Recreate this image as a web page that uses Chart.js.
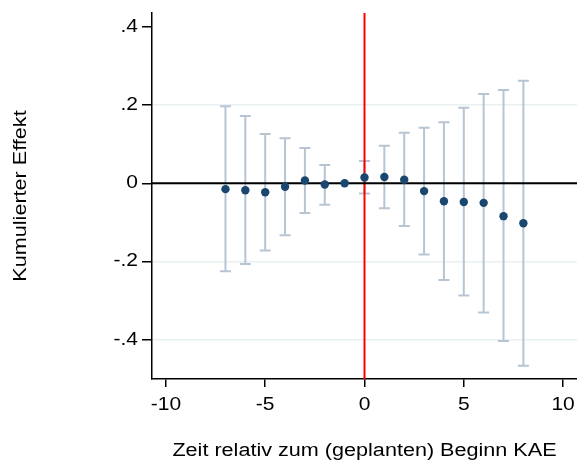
<!DOCTYPE html>
<html>
<head>
<meta charset="utf-8">
<script src="https://cdn.jsdelivr.net/npm/chart.js@4.4.1/dist/chart.umd.min.js"></script>
<style>
html,body{margin:0;padding:0;background:#fff;}
#wrap{width:577px;height:461px;position:relative;}
</style>
</head>
<body>
<div id="wrap"><canvas id="c" width="577" height="461"></canvas></div>
<script>
// Data
const periods  = [-7, -6, -5, -4, -3, -2, -1, 0, 1, 2, 3, 4, 5, 6, 7, 8];
const estimate = [-0.015, -0.018, -0.023, -0.009, 0.007, -0.003, 0.0, 0.015, 0.016, 0.009, -0.020, -0.046, -0.048, -0.050, -0.084, -0.102];
const ciUpper  = [0.197, 0.172, 0.126, 0.115, 0.090, 0.047, null, 0.057, 0.096, 0.129, 0.142, 0.156, 0.193, 0.228, 0.238, 0.262];
const ciLower  = [-0.225, -0.206, -0.172, -0.133, -0.076, -0.055, null, -0.026, -0.064, -0.109, -0.182, -0.247, -0.287, -0.330, -0.403, -0.466];
const xTicks   = [-10, -5, 0, 5, 10];
const yTicks   = [-0.4, -0.2, 0, 0.2, 0.4];
const xTitle   = 'Zeit relativ zum (geplanten) Beginn KAE';
const yTitle   = 'Kumulierter Effekt';

Chart.defaults.font.family = "'Liberation Sans', Arial, sans-serif";
Chart.defaults.font.size = 18;
Chart.defaults.color = '#000';

const fmtY = v => v === 0 ? '0' : v.toFixed(1).replace('0.', '.');

// The reference's lettering is horizontally stretched; widen text glyphs about their anchor.
const wideText = {
  id: 'wideText',
  beforeInit(chart) {
    const ctx = chart.ctx;
    const orig = ctx.fillText.bind(ctx);
    ctx.fillText = function (t, x, y, mw) {
      ctx.save();
      ctx.translate(x, y);
      ctx.scale(1.2, 1);
      orig(t, 0, 0);
      ctx.restore();
    };
  }
};

const refLines = {
  id: 'refLines',
  beforeDatasetsDraw(chart) {
    const {ctx, chartArea, scales} = chart;
    const xs = scales.x, ys = scales.y;
    ctx.save();
    // confidence intervals
    ctx.strokeStyle = '#b7c5d3';
    ctx.lineWidth = 2;
    for (let i = 0; i < periods.length; i++) {
      if (ciUpper[i] === null || ciLower[i] === null) continue;
      const x = xs.getPixelForValue(periods[i]);
      const yu = ys.getPixelForValue(ciUpper[i]);
      const yl = ys.getPixelForValue(ciLower[i]);
      ctx.beginPath();
      ctx.moveTo(x, yu); ctx.lineTo(x, yl);
      ctx.moveTo(x - 5.5, yu); ctx.lineTo(x + 5.5, yu);
      ctx.moveTo(x - 5.5, yl); ctx.lineTo(x + 5.5, yl);
      ctx.stroke();
    }
    // red vertical line at 0
    const x0 = xs.getPixelForValue(0);
    ctx.strokeStyle = '#ff0000';
    ctx.lineWidth = 2;
    ctx.beginPath();
    ctx.moveTo(x0, chartArea.top);
    ctx.lineTo(x0, chartArea.bottom);
    ctx.stroke();
    // black zero line
    const y0 = ys.getPixelForValue(0);
    ctx.strokeStyle = '#000';
    ctx.lineWidth = 2;
    ctx.beginPath();
    ctx.moveTo(chartArea.left, y0);
    ctx.lineTo(chartArea.right, y0);
    ctx.stroke();
    ctx.restore();
  }
};

new Chart(document.getElementById('c'), {
  type: 'scatter',
  data: {
    datasets: [{
      data: periods.map((p, i) => ({x: p, y: estimate[i]})),
      backgroundColor: '#1a476f',
      borderColor: '#1a476f',
      pointRadius: 4.2,
      pointBorderWidth: 0,
      pointHoverRadius: 4.2,
      clip: false
    }]
  },
  options: {
    responsive: false,
    animation: false,
    events: [],
    layout: {autoPadding: false, padding: {left: 0, right: 0, top: 13, bottom: 0}},
    plugins: {legend: {display: false}, tooltip: {enabled: false}},
    scales: {
      x: {
        type: 'linear',
        min: -10.7, max: 10.7,
        afterBuildTicks: s => { s.ticks = xTicks.map(v => ({value: v})); },
        afterFit: s => { s.height = 82; s.paddingLeft = 0; s.paddingRight = 0; },
        border: {color: '#000', width: 1.5},
        grid: {display: true, drawOnChartArea: false, tickColor: '#000', tickLength: 8, lineWidth: 1.5},
        ticks: {padding: 8, color: '#000', maxRotation: 0, font: {size: 17.5}, callback: v => String(v)},
        title: {display: true, text: xTitle, color: '#000', font: {size: 18}, padding: {top: 0, bottom: -1}}
      },
      y: {
        type: 'linear',
        min: -0.5, max: 0.435,
        afterBuildTicks: s => { s.ticks = yTicks.map(v => ({value: v})); },
        afterFit: s => { s.width = 152; s.paddingTop = 0; s.paddingBottom = 0; },
        border: {color: '#000', width: 1.5},
        grid: {
          color: c => (c.tick && Math.abs(c.tick.value - 0.4) < 1e-9) ? 'rgba(0,0,0,0)' : '#e8f0f2',
          tickColor: '#000', tickLength: 10, lineWidth: 1.5
        },
        ticks: {padding: 4, color: '#000', font: {size: 17.5}, callback: v => fmtY(v)},
        title: {display: true, text: yTitle, color: '#000', font: {size: 18}, padding: {top: 10, bottom: 0}}
      }
    }
  },
  plugins: [wideText, refLines]
});
</script>
</body>
</html>
